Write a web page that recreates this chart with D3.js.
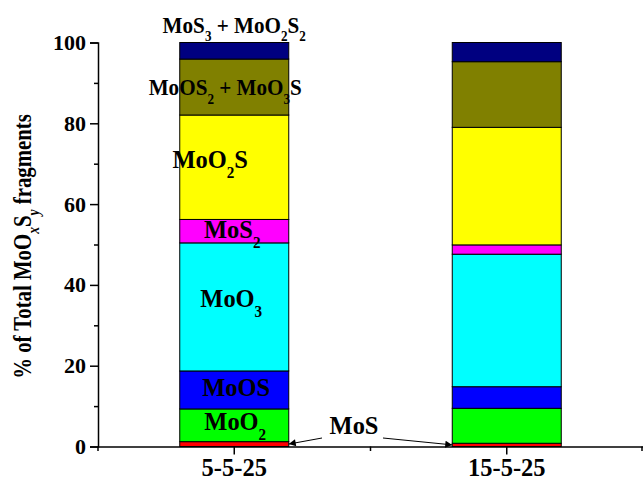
<!DOCTYPE html>
<html>
<head>
<meta charset="utf-8">
<script src="https://cdn.jsdelivr.net/npm/d3@7"></script>
<style>
  body { margin: 0; background: #fff; }
  svg text { font-family: "Liberation Serif", "Times New Roman", serif; font-weight: bold; fill: #000; }
</style>
</head>
<body>
<div id="chart"></div>
<script>
// samples (x categories)
var categories = ["5-5-25", "15-5-25"];

// fragment groups, bottom to top
var fragments = ["MoS", "MoO2", "MoOS", "MoO3", "MoS2", "MoO2S", "MoOS2+MoO3S", "MoS3+MoO2S2"];
var fragColors = ["#ff0000", "#00ff00", "#0000ff", "#00ffff", "#ff00ff", "#ffff00", "#808000", "#000080"];

// % of total, one array per fragment: [5-5-25, 15-5-25]
var valMoS      = [1.2, 0.8];
var valMoO2     = [8.1, 8.65];
var valMoOS     = [9.4, 5.35];
var valMoO3     = [31.7, 32.8];
var valMoS2     = [5.8, 2.3];
var valMoO2S    = [25.85, 29.1];
var valMoOS2    = [13.85, 16.25];
var valMoS3     = [4.1, 4.75];

var yTicks = [0, 20, 40, 60, 80, 100];
var yMinorTicks = [10, 30, 50, 70, 90];

var W = 643, H = 480;
var svg = d3.select("#chart").append("svg").attr("width", W).attr("height", H);

var x = d3.scaleBand().domain(categories).range([98, 643]).paddingInner(0).paddingOuter(0);
var y = d3.scaleLinear().domain([0, 100]).range([446.5, 42.5]);
var barW = x.bandwidth() * 0.4;

// build rows for the stack
var series = [valMoS, valMoO2, valMoOS, valMoO3, valMoS2, valMoO2S, valMoOS2, valMoS3];
var rows = categories.map(function (c, i) {
    var r = { cat: c };
    fragments.forEach(function (f, k) { r[f] = series[k][i]; });
    return r;
});
var stacked = d3.stack().keys(fragments)(rows);

var gBars = svg.append("g");
stacked.forEach(function (layer, k) {
    gBars.selectAll(null).data(layer).enter().append("rect")
        .attr("x", function (d) { return x(d.data.cat) + x.bandwidth() / 2 - barW / 2; })
        .attr("y", function (d) { return y(d[1]); })
        .attr("width", barW)
        .attr("height", function (d) { return y(d[0]) - y(d[1]); })
        .attr("fill", fragColors[k])
        .attr("stroke", "#000")
        .attr("stroke-width", 1);
});

// axes
var yAxis = d3.axisLeft(y).tickValues(yTicks).tickSize(8).tickPadding(4).tickFormat(d3.format("d"));
var gy = svg.append("g").attr("transform", "translate(98,0)").call(yAxis);
gy.select(".domain").attr("stroke-width", 1.5);
gy.selectAll(".tick line").attr("stroke-width", 1.5);
gy.selectAll("text").style("font-size", "22px").style("font-family", "Liberation Serif").style("font-weight", "bold");
var gyMinor = svg.append("g").attr("transform", "translate(98,0)")
    .call(d3.axisLeft(y).tickValues(yMinorTicks).tickSize(4).tickFormat(""));
gyMinor.select(".domain").remove();
gyMinor.selectAll(".tick line").attr("stroke-width", 1.5);

var xAxis = d3.axisBottom(x).tickSize(8).tickPadding(4).tickSizeOuter(0);
var gx = svg.append("g").attr("transform", "translate(0,446.5)").call(xAxis);
gx.select(".domain").attr("stroke-width", 1.5);
gx.selectAll(".tick line").attr("stroke-width", 1.5);
gx.selectAll("text").style("font-size", "24.5px").style("font-family", "Liberation Serif").style("font-weight", "bold");
// minor ticks at band edges
var xEdges = [x(categories[0]), x(categories[1]), x(categories[1]) + x.bandwidth()];
svg.append("g").selectAll("line").data(xEdges).enter().append("line")
    .attr("x1", function (d) { return Math.min(d, 642); }).attr("x2", function (d) { return Math.min(d, 642); })
    .attr("y1", 446.5).attr("y2", 451).attr("stroke", "#000").attr("stroke-width", 1.5);

// y axis title (the original is squeezed along its length)
var yt = svg.append("text")
    .attr("transform", "translate(31," + (y(50) + 2) + ") rotate(-90) scale(0.8,1)")
    .attr("text-anchor", "middle")
    .style("font-size", "26px");
yt.append("tspan").text("% of Total MoO");
yt.append("tspan").text("x").attr("dy", 8).style("font-size", "17px").style("font-style", "italic");
yt.append("tspan").text("S").attr("dy", -8);
yt.append("tspan").text("y").attr("dy", 8).style("font-size", "17px").style("font-style", "italic");
yt.append("tspan").text(" fragments").attr("dy", -8);

// segment labels: parts [text, isSub]
function label(parts, cx, by, size) {
    var t = svg.append("text")
        .attr("transform", "translate(" + cx + "," + by + ") scale(0.94,1)")
        .attr("text-anchor", "middle").style("font-size", size + "px");
    var down = false, sub = size * 0.62, off = size * 0.38;
    parts.forEach(function (p) {
        var s = t.append("tspan").text(p[0]);
        if (p[1]) s.style("font-size", sub + "px");
        if (p[1] && !down) { s.attr("dy", off); down = true; }
        else if (!p[1] && down) { s.attr("dy", -off); down = false; }
    });
    return t;
}
var c0 = x(categories[0]) + x.bandwidth() / 2;
var s0 = stacked.map(function (l) { return l[0]; });
function mid(k) { return y((s0[k][0] + s0[k][1]) / 2); }

label([["MoO"], ["2", 1]], c0 + 1, mid(1) + 5, 26);
label([["MoOS"]], c0 + 2, mid(2) + 6, 26);
label([["MoO"], ["3", 1]], c0 - 3, mid(3), 26);
label([["MoS"], ["2", 1]], c0 - 2, mid(4) + 7, 26);
label([["MoO"], ["2", 1], ["S"]], c0 - 24, mid(5) + 1, 26);
label([["MoOS"], ["2", 1], [" + MoO"], ["3", 1], ["S"]], c0 - 9, mid(6) + 8, 22.5);
label([["MoS"], ["3", 1], [" + MoO"], ["2", 1], ["S"], ["2", 1]], c0, y(100) - 10, 22.5);
label([["MoS"]], 354, 434, 26);

// arrows for MoS
svg.append("defs").append("marker").attr("id", "ah").attr("viewBox", "0 0 10 10")
    .attr("refX", 10).attr("refY", 5).attr("markerWidth", 10).attr("markerHeight", 7)
    .attr("orient", "auto").attr("markerUnits", "userSpaceOnUse")
    .append("path").attr("d", "M0,0 L10,5 L0,10 Z").attr("fill", "#000");
var mosY0 = y(valMoS[0] / 2), mosY1 = y(valMoS[1] / 2);
svg.append("line").attr("x1", 322).attr("y1", 438).attr("x2", c0 + barW / 2).attr("y2", mosY0)
    .attr("stroke", "#000").attr("stroke-width", 1).attr("marker-end", "url(#ah)");
var c1 = x(categories[1]) + x.bandwidth() / 2;
svg.append("line").attr("x1", 383).attr("y1", 438).attr("x2", c1 - barW / 2).attr("y2", mosY1)
    .attr("stroke", "#000").attr("stroke-width", 1).attr("marker-end", "url(#ah)");
</script>
</body>
</html>
